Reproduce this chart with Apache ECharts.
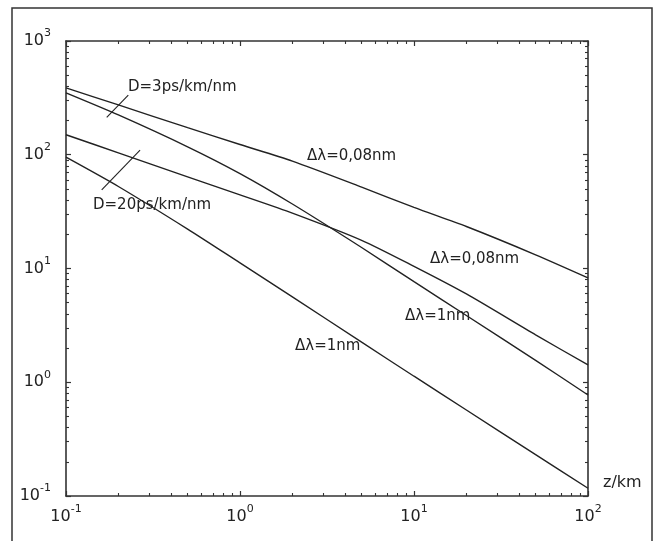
<!DOCTYPE html>
<html><head><meta charset="utf-8">
<script src="https://cdn.jsdelivr.net/npm/echarts@6/dist/echarts.min.js"></script>
<style>html,body{margin:0;padding:0;background:#fff}#c{width:661px;height:541px}</style>
</head><body><div id="c"></div>
<script>
// distance z (km)
const zKm = [0.1, 0.2, 0.5, 1, 2, 5, 10, 20, 50, 100];
// D = 3 ps/km/nm
const d3_dl008 = [387, 274, 173, 123, 88, 52, 34.4, 23.4, 13.2, 8.28];
const d3_dl1   = [350, 224, 117.5, 68.3, 36.9, 15.3, 7.66, 3.86, 1.556, 0.773];
// D = 20 ps/km/nm
const d20_dl008 = [150, 104, 64, 44.4, 30.7, 17.7, 10.45, 5.98, 2.61, 1.42];
const d20_dl1   = [95.2, 52.6, 22.2, 11.2, 5.64, 2.25, 1.13, 0.57, 0.231, 0.117];
// leader strokes for the D labels (data coordinates)
const leaderD3  = [[0.1714, 213], [0.228, 335]];
const leaderD20 = [[0.1604, 49.0], [0.2665, 110]];
// axis ranges and minor ticks
const xRange = [0.1, 100];
const yRange = [0.1, 1000];
const xMinor = [0.2,0.3,0.4,0.5,0.6,0.7,0.8,0.9,2,3,4,5,6,7,8,9,20,30,40,50,60,70,80,90];
const yMinor = [0.2,0.3,0.4,0.5,0.6,0.7,0.8,0.9,2,3,4,5,6,7,8,9,20,30,40,50,60,70,80,90,200,300,400,500,600,700,800,900];

const FONT = 'DejaVu Sans';
const INK = '#222';
const rich = {
  b: {fontSize: 16, lineHeight: 26, fontFamily: FONT, color: INK},
  s: {fontSize: 11, lineHeight: 10, verticalAlign: 'top', fontFamily: FONT, color: INK}
};
function powLabel(v) {
  const e = Math.round(Math.log10(v));
  return '{b|10}{s|' + e + '}';
}
const gridRect = {left: 66, top: 41, width: 522, height: 455};
const axisLineStyle = {color: '#333', width: 1.6};

function logAxis(pos, range, labels, extra) {
  return Object.assign({
    type: 'log', logBase: 10, min: range[0], max: range[1], position: pos, gridIndex: 0,
    axisLine: {show: true, onZero: false, lineStyle: axisLineStyle},
    axisTick: {show: true, inside: true, length: 5, lineStyle: {color: '#333', width: 1.2}},
    splitLine: {show: false},
    axisLabel: labels ? {show: true, formatter: powLabel, rich: rich} : {show: false}
  }, extra || {});
}
function minorAxis(pos, range, vals) {
  return {
    type: 'value', gridIndex: 1, position: pos,
    min: Math.log10(range[0]), max: Math.log10(range[1]),
    axisLine: {show: false, onZero: false}, splitLine: {show: false}, axisLabel: {show: false},
    axisTick: {show: true, inside: true, length: 3, customValues: vals.map(v => Math.log10(v)),
               lineStyle: {color: '#333', width: 1.1}}
  };
}

const curveStyle = {color: INK, width: 1.4};
function curve(arr) {
  return {type: 'line', xAxisIndex: 0, yAxisIndex: 0, data: zKm.map((z, i) => [z, arr[i]]),
          symbol: 'none', smooth: 0.25, lineStyle: curveStyle, silent: true};
}
function leader(pts) {
  return {type: 'line', xAxisIndex: 0, yAxisIndex: 0, data: pts, symbol: 'none',
          lineStyle: {color: INK, width: 1.1}, silent: true};
}
function txt(x, y, s, size) {
  return {type: 'text', left: x, top: y, style: {text: s, font: (size || 15) + 'px "' + FONT + '"', fill: INK}};
}

const chart = echarts.init(document.getElementById('c'), null, {renderer: 'canvas'});
chart.setOption({
  animation: false,
  backgroundColor: '#fff',
  grid: [Object.assign({}, gridRect), Object.assign({}, gridRect)],
  xAxis: [
    logAxis('bottom', xRange, true, {axisLabel: {show: true, formatter: powLabel, rich: rich, margin: 8}}),
    logAxis('top', xRange, false),
    minorAxis('bottom', xRange, xMinor),
    minorAxis('top', xRange, xMinor)
  ],
  yAxis: [
    logAxis('left', yRange, true, {axisLabel: {show: true, formatter: powLabel, rich: rich, margin: 15}}),
    logAxis('right', yRange, false),
    minorAxis('left', yRange, yMinor),
    minorAxis('right', yRange, yMinor)
  ],
  series: [curve(d3_dl008), curve(d3_dl1), curve(d20_dl008), curve(d20_dl1), leader(leaderD3), leader(leaderD20)],
  graphic: [
    {type: 'rect', shape: {x: 12, y: 8, width: 640, height: 560}, style: {fill: 'none', stroke: '#333', lineWidth: 1.5}, silent: true},
    txt(128, 80, 'D=3ps/km/nm'),
    txt(93, 198, 'D=20ps/km/nm'),
    txt(307, 149, 'Δλ=0,08nm'),
    txt(430, 252, 'Δλ=0,08nm'),
    txt(405, 309, 'Δλ=1nm'),
    txt(295, 339, 'Δλ=1nm'),
    txt(603, 475, 'z/km', 16)
  ]
});
</script></body></html>
